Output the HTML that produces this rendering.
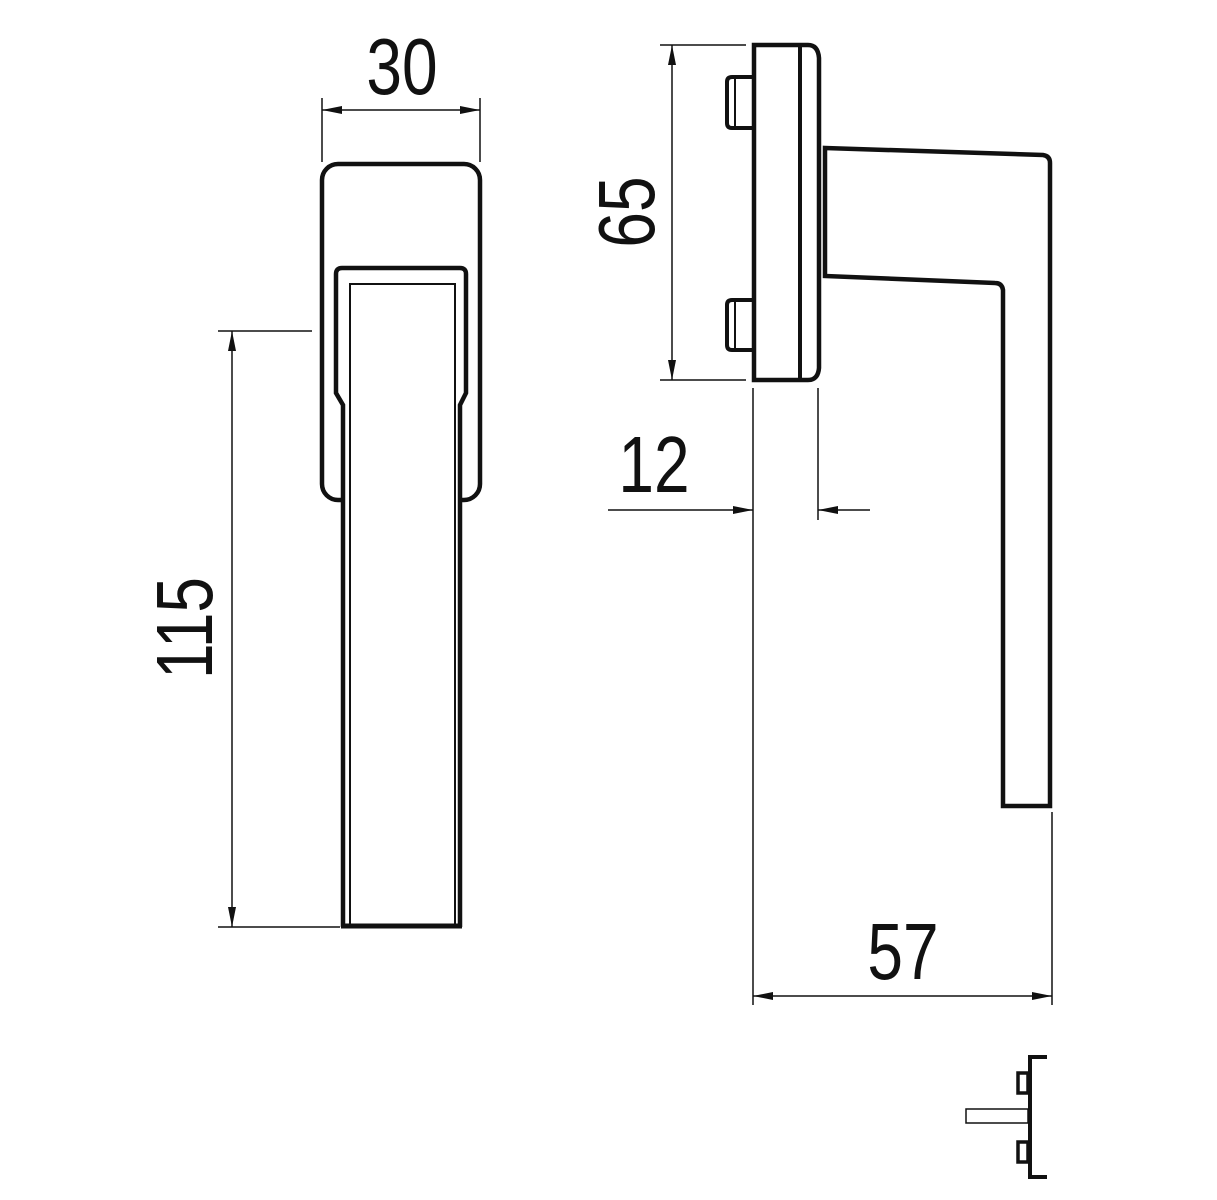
<!DOCTYPE html>
<html><head><meta charset="utf-8"><style>
html,body{margin:0;padding:0;background:#fff}
svg{display:block}
text{font-family:"Liberation Sans",sans-serif;font-size:80px;fill:#111}
</style></head><body>
<svg width="1217" height="1200" viewBox="0 0 1217 1200" xmlns="http://www.w3.org/2000/svg">
<defs>
<marker id="a" viewBox="0 0 20 8" refX="20" refY="4" markerWidth="20" markerHeight="8" markerUnits="userSpaceOnUse" orient="auto-start-reverse"><path d="M0,0 L20,4 L0,8 Z" fill="#111"/></marker>
</defs>
<g fill="none" stroke="#111">
<!-- left view -->
<rect x="322" y="164" width="158" height="336" rx="16" stroke-width="4.5"/>
<path d="M343,927 V405 L336,393 V274 Q336,268 342,268 H460 Q466,268 466,274 V393 L460,405 V927" stroke-width="4.5" fill="#fff"/>
<path d="M350,927 V284 H455 V927" stroke-width="2"/>
<line x1="341" y1="926" x2="462" y2="926" stroke-width="5"/>
<!-- dim 30 -->
<line x1="322" y1="98" x2="322" y2="162" stroke-width="1.5"/>
<line x1="480" y1="98" x2="480" y2="162" stroke-width="1.5"/>
<line x1="322" y1="110" x2="480" y2="110" stroke-width="1.5" marker-start="url(#a)" marker-end="url(#a)"/>
<!-- dim 115 -->
<line x1="218" y1="331" x2="312" y2="331" stroke-width="1.5"/>
<line x1="218" y1="927" x2="340" y2="927" stroke-width="1.5"/>
<line x1="232" y1="331" x2="232" y2="927" stroke-width="1.5" marker-start="url(#a)" marker-end="url(#a)"/>
<!-- right view -->
<path d="M754,45 H808 Q818,45 819,58 V368 Q818,380 808,380 H754 Z" stroke-width="4.5"/>
<line x1="800" y1="46" x2="800" y2="380" stroke-width="4"/>
<path d="M754,77 H732 Q727,77 727,82 V123 Q727,128 732,128 H754" stroke-width="4"/>
<line x1="735" y1="79" x2="735" y2="126" stroke-width="2"/>
<path d="M754,300 H732 Q727,300 727,305 V345 Q727,350 732,350 H754" stroke-width="4"/>
<line x1="735" y1="302" x2="735" y2="348" stroke-width="2"/>
<path d="M825,148 L1043,155 Q1050,156 1050,163 V806 H1003 V290 Q1002,283 995,283 L825,276 Z" stroke-width="4.5"/>
<line x1="820" y1="165" x2="820" y2="262" stroke-width="2"/>
<!-- dim 65 -->
<line x1="660" y1="45" x2="746" y2="45" stroke-width="1.5"/>
<line x1="660" y1="380" x2="746" y2="380" stroke-width="1.5"/>
<line x1="672" y1="45" x2="672" y2="380" stroke-width="1.5" marker-start="url(#a)" marker-end="url(#a)"/>
<!-- dim 12 -->
<line x1="753" y1="388" x2="753" y2="1005" stroke-width="1.5"/>
<line x1="818" y1="388" x2="818" y2="520" stroke-width="1.5"/>
<line x1="608" y1="510" x2="753" y2="510" stroke-width="1.5" marker-end="url(#a)"/>
<line x1="870" y1="510" x2="818" y2="510" stroke-width="1.5" marker-end="url(#a)"/>
<!-- dim 57 -->
<line x1="1052" y1="812" x2="1052" y2="1005" stroke-width="1.5"/>
<line x1="753" y1="996" x2="1052" y2="996" stroke-width="1.5" marker-start="url(#a)" marker-end="url(#a)"/>
<!-- small icon -->
<path d="M1047,1057 H1030 V1177 H1047" stroke-width="4"/>
<rect x="1018" y="1073" width="10" height="20" stroke-width="3.5"/>
<rect x="1018" y="1142" width="10" height="20" stroke-width="3.5"/>
<rect x="966" y="1109" width="62" height="14" stroke-width="1.5"/>
</g>
<text x="402" y="94" text-anchor="middle" transform="translate(402 0) scale(0.8 1) translate(-402 0)">30</text>
<text transform="translate(212 628) rotate(-90) scale(0.8 1)" text-anchor="middle">115</text>
<text transform="translate(654 212) rotate(-90) scale(0.8 1)" text-anchor="middle">65</text>
<text transform="translate(654 492) scale(0.8 1)" text-anchor="middle">12</text>
<text transform="translate(903 979) scale(0.8 1)" text-anchor="middle">57</text>
</svg>
</body></html>
